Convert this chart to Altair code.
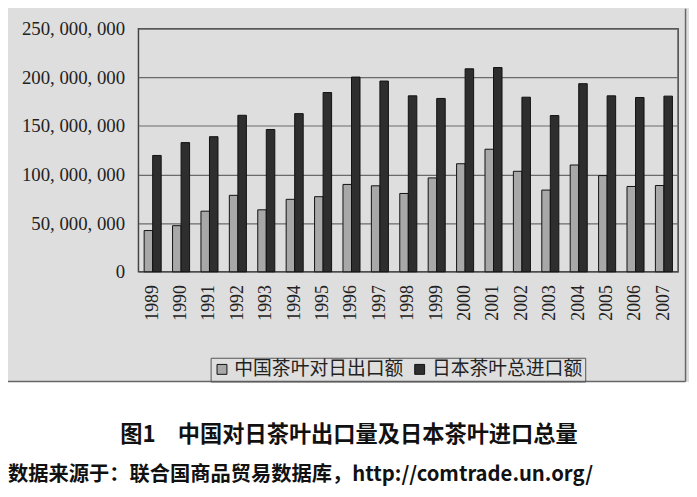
import altair as alt
import pandas as pd

years = [str(y) for y in range(1989, 2008)]
china_to_japan = [42.4e6, 47.4e6, 62.3e6, 78.6e6, 63.7e6, 74.5e6, 77.2e6, 89.8e6, 88.4e6, 80.5e6,
                  96.5e6, 111.1e6, 126.0e6, 103.3e6, 84.0e6, 109.8e6, 98.9e6, 87.7e6, 88.7e6]
japan_total = [119.6e6, 132.8e6, 138.9e6, 160.9e6, 146.3e6, 162.6e6, 184.3e6, 200.2e6, 196.1e6, 180.9e6,
               178.2e6, 208.7e6, 210.0e6, 179.5e6, 160.6e6, 193.4e6, 180.9e6, 179.2e6, 180.6e6]
series = ["中国茶叶对日出口额", "日本茶叶总进口额"]
y_ticks = [0, 50e6, 100e6, 150e6, 200e6, 250e6]
title_text = "图1　中国对日茶叶出口量及日本茶叶进口总量"
source_text = "数据来源于：联合国商品贸易数据库，http://comtrade.un.org/"

rows = []
for i, yr in enumerate(years):
    rows.append({"year": yr, "series": series[0], "value": china_to_japan[i]})
    rows.append({"year": yr, "series": series[1], "value": japan_total[i]})
df = pd.DataFrame(rows)

SERIF = "Liberation Serif, Noto Sans CJK SC"
BG = "#dedede"

bars = alt.Chart(df).mark_bar(stroke="#111", strokeWidth=1).encode(
    x=alt.X("year:N", sort=years, title=None,
            scale=alt.Scale(paddingInner=0.4, paddingOuter=0.2),
            axis=alt.Axis(labelAngle=270, labelAlign="right", labelBaseline="middle",
                          labelPadding=13, labelFontSize=18, labelFont=SERIF,
                          labelColor="#222", ticks=False, domain=False)),
    xOffset=alt.XOffset("series:N", sort=series, scale=alt.Scale(paddingInner=0, paddingOuter=0)),
    y=alt.Y("value:Q", title=None,
            scale=alt.Scale(domain=[0, 250e6], nice=False),
            axis=alt.Axis(values=y_ticks, grid=True, gridColor="#6a6a6a", gridWidth=1.2,
                          ticks=False, domain=False, labelPadding=14,
                          labelFontSize=19, labelFont=SERIF, labelColor="#222",
                          labelExpr="replace(format(datum.value, ','), regexp(',', 'g'), ', ')")),
    color=alt.Color("series:N", sort=series,
                    scale=alt.Scale(domain=series, range=["#a8a8a8", "#2e2e2e"]),
                    legend=alt.Legend(orient="none", legendX=73, legendY=333, direction="horizontal",
                                      title=None, symbolType="square", symbolSize=100,
                                      symbolStrokeColor="#111", symbolStrokeWidth=1,
                                      labelFontSize=19, labelFont=SERIF, labelColor="#222",
                                      labelLimit=400,
                                      strokeColor="#555", padding=2, columnPadding=6,
                                      labelOffset=3)),
)

white_bottom = alt.Chart(pd.DataFrame({"k": [0]})).mark_rect(fill="white").encode(
    x=alt.value(-140), x2=alt.value(560), y=alt.value(357.5), y2=alt.value(475))

frame_bottom = alt.Chart(pd.DataFrame({"k": [0]})).mark_rule(color="#666", strokeWidth=1.5).encode(
    x=alt.value(-140), x2=alt.value(553.5), y=alt.value(357))
frame_right = alt.Chart(pd.DataFrame({"k": [0]})).mark_rule(color="#666", strokeWidth=1.5).encode(
    x=alt.value(553.5), y=alt.value(-20), y2=alt.value(357))

title_mark = alt.Chart(pd.DataFrame({"t": [title_text]})).mark_text(
    font="Noto Sans CJK SC", fontWeight="bold", fontSize=22.5, color="#111",
    align="center", baseline="middle").encode(
    text="t:N", x=alt.value(213), y=alt.value(411))

source_mark = alt.Chart(pd.DataFrame({"t": [source_text]})).mark_text(
    font="Noto Sans CJK SC", fontWeight="bold", fontSize=20.5, color="#111",
    align="left", baseline="middle").encode(
    text="t:N", x=alt.value(-132), y=alt.value(452))

chart = alt.layer(white_bottom, frame_bottom, frame_right, bars, title_mark, source_mark).properties(
    width=546, height=246,
    autosize="none",
    padding={"left": 132, "top": 18, "right": 11, "bottom": 225},
    background=BG,
).configure_view(stroke="#444", strokeWidth=1.5, fill=BG)

chart.save("out.html", embed_options={"renderer": "svg", "actions": False})
